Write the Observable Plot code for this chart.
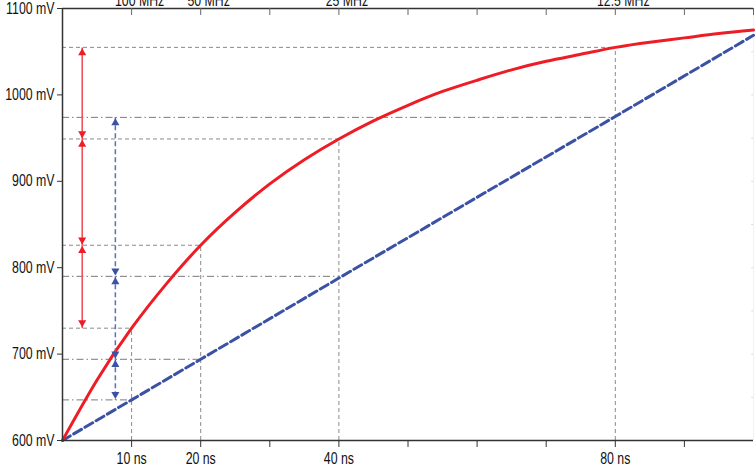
<!DOCTYPE html>
<html>
<head>
<meta charset="utf-8">
<script src="https://cdn.jsdelivr.net/npm/d3@7"></script>
<script src="https://cdn.jsdelivr.net/npm/@observablehq/plot@0.6"></script>
<style>
  html, body { margin: 0; padding: 0; background: white; }
  #chart svg { display: block; }
</style>
</head>
<body>
<div id="chart"></div>
<script>
// ---- data ----
const times   = [0, 5, 10, 15, 20, 25, 30, 35, 40, 45, 50, 55, 60, 65, 70, 75, 80, 85, 90, 95, 100];
const redMv   = [600, 670, 730, 781, 826, 864, 897, 925, 949, 970, 988, 1004, 1017, 1029, 1039, 1047, 1055, 1061, 1066, 1071, 1075];
const blueTimes = [0, 10, 20, 40, 80, 100];
const blueMv    = [600, 647, 694, 788, 975, 1069];

const markTimes   = [10, 20, 40, 80];
const redLevels   = [730, 826, 949, 1055];
const blueLevels  = [647, 694, 790, 974];
const freqLabels  = ["100 MHz", "50 MHz", "25 MHz", "12.5 MHz"];
const timeLabels  = ["10 ns", "20 ns", "40 ns", "80 ns"];
const yTicks      = [600, 700, 800, 900, 1000, 1100];
const xTicksBottom = [10, 20, 30, 40, 50, 60, 70, 80, 90];
const xTicksTop    = [10, 20, 30, 40, 50, 60, 70, 80, 90, 100];
const rightTicks   = [650, 700, 750, 800, 850, 900, 950, 1000, 1050];

// ---- derived tables ----
const red  = times.map((t, i) => ({t, v: redMv[i]}));
const blue = blueTimes.map((t, i) => ({t, v: blueMv[i]}));
const marks = markTimes.map((t, i) => ({t, r: redLevels[i], b: blueLevels[i], f: freqLabels[i]}));
const timeLabelOf = new Map(markTimes.map((t, i) => [t, timeLabels[i]]));

const redSorted  = [...redLevels].sort((a, b) => b - a);
const blueSorted = [...blueLevels].sort((a, b) => b - a);
const redSegs  = d3.pairs(redSorted).map(([a, b]) => ({a, b}));
const blueSegs = d3.pairs(blueSorted).map(([a, b]) => ({a, b}));

const RED_X = 2.85, BLUE_X = 7.65;
const RED = "#ee1c25", BLUE = "#3b52a4";
const FONT = "'Liberation Sans', Arial, sans-serif";

const headMarks = (segs, x, color) => [
  Plot.dot(segs, {x: () => x, y: "a", symbol: "triangle", r: 3, fill: color, stroke: "none", rotate: 0, dy: 5.5}),
  Plot.dot(segs, {x: () => x, y: "b", symbol: "triangle", r: 3, fill: color, stroke: "none", rotate: 180, dy: -5.5})
];

const chart = Plot.plot({
  width: 756,
  height: 466,
  marginLeft: 62,
  marginRight: 3,
  marginTop: 8,
  marginBottom: 26,
  style: {fontFamily: FONT, fontSize: "16px", color: "#111", background: "white", overflow: "hidden"},
  x: {domain: [0, 100], axis: null},
  y: {domain: [600, 1100], axis: null},
  marks: [
    Plot.ruleY(rightTicks, {y: d => d, x1: 99.75, x2: 100, stroke: "#d8d8d8", strokeWidth: 1}),
    Plot.ruleX([100], {stroke: "#f2f2f2", strokeWidth: 1}),
    Plot.ruleY(marks, {y: "r", x1: 0, x2: "t", stroke: "#8a8a8a", strokeWidth: 1, strokeDasharray: "4,3"}),
    Plot.ruleX(marks, {x: "t", y1: 600, y2: "r", stroke: "#8a8a8a", strokeWidth: 1, strokeDasharray: "4,3"}),
    Plot.ruleY(marks, {y: "b", x1: 0, x2: "t", stroke: "#7a7a7a", strokeWidth: 1, strokeDasharray: "7,3,1.5,3"}),
    Plot.line(blue, {x: "t", y: "v", stroke: BLUE, strokeWidth: 3, strokeDasharray: "9,4"}),
    Plot.line(red, {x: "t", y: "v", stroke: RED, strokeWidth: 3, curve: "natural"}),
    Plot.link(redSegs, {x1: () => RED_X, x2: () => RED_X, y1: "a", y2: "b", stroke: "#f04a52", strokeWidth: 1.5}),
    ...headMarks(redSegs, RED_X, RED),
    Plot.link(blueSegs, {x1: () => BLUE_X, x2: () => BLUE_X, y1: "a", y2: "b", stroke: "#5a70bf", strokeWidth: 1.5, strokeDasharray: "5,3"}),
    ...headMarks(blueSegs, BLUE_X, BLUE),
    Plot.ruleX([0], {stroke: "#333", strokeWidth: 1.5}),
    Plot.ruleY([600], {stroke: "#333", strokeWidth: 1.5}),
    Plot.ruleY([1100], {stroke: "#333", strokeWidth: 1.5}),
    Plot.ruleX(xTicksTop, {x: d => d, insetBottom: 432 - 7, stroke: "#666", strokeWidth: 1}),
    Plot.axisY({ticks: yTicks, tickSize: 5, tickPadding: 3, tickFormat: d => `${d} mV`, label: null, stroke: "#333", fontSize: 16}),
    Plot.axisX({ticks: xTicksBottom, tickSize: 7, tickPadding: 5, tickFormat: d => timeLabelOf.get(d) ?? "", label: null, stroke: "#333", fontSize: 16}),
    Plot.text(marks, {x: "t", text: "f", frameAnchor: "top", lineAnchor: "bottom", dy: -2.5, dx: 8, fontSize: 16})
  ]
});

document.getElementById("chart").append(chart);

// condense the glyphs to match the narrow face of the original
chart.querySelectorAll("text").forEach(t => {
  const len = t.getComputedTextLength();
  if (len > 0) {
    t.setAttribute("textLength", (len * 0.77).toFixed(2));
    t.setAttribute("lengthAdjust", "spacingAndGlyphs");
  }
});
</script>
</body>
</html>
